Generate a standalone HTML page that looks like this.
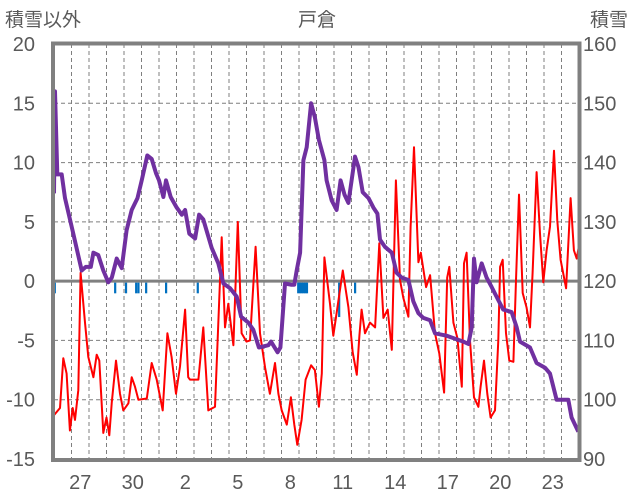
<!DOCTYPE html>
<html><head><meta charset="utf-8">
<style>
html,body{margin:0;padding:0;background:#fff;}
#wrap{position:relative;width:636px;height:501px;overflow:hidden;font-family:"Liberation Sans","Noto Sans CJK JP",sans-serif;}
svg text{font-family:"Liberation Sans","Noto Sans CJK JP",sans-serif;fill:#595959;}
</style></head>
<body>
<div id="wrap">
<svg id="chart" width="636" height="501"></svg>
</div>
<script>
// ---- data ----
const dayLabels = ["27","30","2","5","8","11","14","17","20","23"];
const dayLabelIdx = [1,4,7,10,13,16,19,22,25,28];
const leftTicks = [20,15,10,5,0,-5,-10,-15];
const rightTicks = [160,150,140,130,120,110,100,90];
const redT = [0,0.34,0.53,0.72,0.91,1.07,1.2,1.39,1.52,1.77,1.96,2.25,2.44,2.59,2.82,3.0,3.16,3.3,3.54,3.77,3.96,4.25,4.44,4.63,4.82,5.3,5.58,5.87,6.21,6.48,6.72,6.97,7.2,7.49,7.67,7.77,8.25,8.53,8.82,9.2,9.58,9.77,9.96,10.25,10.5,10.72,11.0,11.2,11.52,11.77,12.06,12.34,12.63,12.82,13.01,13.3,13.54,13.73,13.9,14.15,14.38,14.69,14.91,15.14,15.3,15.45,15.77,15.96,16.15,16.5,16.82,17.07,17.3,17.45,17.58,17.77,18.06,18.35,18.59,18.82,19.07,19.3,19.54,19.77,19.96,20.25,20.38,20.57,20.82,20.96,21.26,21.49,21.77,22.02,22.29,22.47,22.59,22.82,23.05,23.3,23.43,23.58,23.77,24.0,24.25,24.38,24.57,24.76,24.95,25.2,25.39,25.49,25.64,25.83,26.02,26.25,26.4,26.57,26.78,27.0,27.2,27.35,27.58,27.77,27.96,28.15,28.34,28.57,28.76,28.95,29.26,29.52,29.71,29.87,30.0];
const redV = [-11.3,-10.7,-6.5,-7.8,-12.6,-10.7,-11.7,-9.2,0.7,-3.5,-6.4,-8.1,-6.2,-6.7,-12.8,-11.5,-13,-10.2,-6.7,-9.5,-10.9,-10.3,-8.1,-8.9,-10.0,-9.9,-6.9,-8.3,-10.9,-4.4,-6.4,-9.5,-7.2,-2.4,-8.1,-8.3,-8.3,-3.9,-10.9,-10.6,3.7,-3.9,-1.9,-5.4,5.0,-4.4,-5.1,-5.0,2.9,-4.4,-7.3,-9.5,-6.9,-9.5,-10.9,-12.1,-9.8,-12.1,-13.8,-11.7,-8.3,-7.1,-7.5,-10.6,-7.8,2.0,-1.9,-4.6,-2.7,0.9,-2.2,-6.0,-7.9,-4.6,-2.4,-4.4,-3.5,-3.9,3.2,-3.1,-2.4,-5.8,8.5,0.1,-1.4,-3.0,4.6,11.3,1.6,2.4,-0.5,0.5,-4.4,-6.1,-9.4,0.3,1.2,-3.5,-4.8,-8.9,1.5,2.4,-5.0,-9.8,-10.6,-8.9,-6.7,-9.5,-11.5,-10.9,-5.0,1.2,1.8,-4.4,-6.7,-6.8,0.1,7.3,-1.0,-2.2,-3.9,0.7,9.2,4.0,-0.1,2.6,4.6,11.0,5.1,1.8,-0.6,7.0,2.6,1.9,3.0];
const snowT = [0,0.06,0.19,0.44,0.63,1.1,1.58,1.82,2.1,2.25,2.53,2.82,3.1,3.3,3.58,3.87,4.15,4.44,4.77,5.01,5.33,5.58,5.83,6.0,6.25,6.4,6.67,7.01,7.3,7.49,7.73,8.06,8.29,8.53,9.01,9.39,9.68,10.06,10.44,10.69,11.1,11.39,11.71,12.25,12.4,12.78,12.94,13.2,13.54,13.73,13.87,14.06,14.25,14.44,14.69,14.91,15.14,15.45,15.58,15.87,16.15,16.38,16.6,16.82,17.2,17.4,17.64,17.97,18.25,18.48,18.63,18.91,19.3,19.58,19.87,20.25,20.53,20.82,21.1,21.49,21.77,22.43,22.82,23.39,23.68,23.87,24.0,24.15,24.44,24.72,25.01,25.39,25.67,26.15,26.44,26.63,27.2,27.58,28.06,28.34,28.72,29.39,29.58,29.96];
const snowV = [134.8,152,138,138,134,128,121.8,122.4,122.4,124.8,124.4,121.8,119.8,120.6,123.8,122.2,128.6,132,134,137,141.2,140.6,138.2,137,134.2,137,134.2,132.4,131.2,132,128,127.2,131.2,130.4,125.6,123,119.6,118.8,117.4,114,113,111.8,108.8,109.2,109.8,108,108.8,119.6,119.4,119.4,121.8,124.8,140.4,142.6,150,147.6,143.8,140.4,137,133.6,132,137,134.6,133.2,141,139.2,135,134,132.4,131.4,127,125.8,124.8,121.4,120.6,120.2,116.6,114.6,113.8,113.4,111.2,110.8,110.4,109.8,109.4,112.2,123.8,119.8,123,120.6,119,116.8,115.2,114.8,112.2,109.8,108.8,106.2,105.4,104.4,100,100,97,94.6];
const precT = [0.04,3.49,4.11,4.69,4.82,5.26,6.4,8.21,13.95,14.05,14.15,14.25,14.35,14.45,16.29,17.2];
const precV = [0.9,0.9,0.9,0.9,0.9,0.9,0.9,0.9,0.9,0.9,0.9,0.9,0.9,0.9,2.9,0.9];

// ---- axes ----
const X0=54, DAY=17.5, Y20=44, PX=415/35;
function xs(t){return X0+t*DAY;}
function yl(v){return Y20+(20-v)*PX;}
function yr(s){return yl((s-120)/2);}
const NS="http://www.w3.org/2000/svg";
const svg=document.getElementById('chart');
function mk(tag,attrs,parent){const e=document.createElementNS(NS,tag);for(const k in attrs)e.setAttribute(k,attrs[k]);(parent||svg).appendChild(e);return e;}

// grid
const grid=mk('g',{});


for(let d=1;d<30;d++){
  const l=mk('line',{x1:xs(d),x2:xs(d),y1:44,y2:460,stroke:'#7f7f7f','stroke-width':1,'stroke-dasharray':'4,3'},grid);
  
  
}
leftTicks.forEach(v=>{
  if(v===20||v===-15||v===0)return;
  const l=mk('line',{x1:54,x2:580,y1:yl(v),y2:yl(v),stroke:'#7f7f7f','stroke-width':1,'stroke-dasharray':'4,3'},grid);
  
  
});
const zl=mk('line',{x1:54,x2:580,y1:yl(0),y2:yl(0),stroke:'#808080','stroke-width':3});



// precipitation bars
precT.forEach((t,i)=>{
  const r=mk('rect',{x:xs(t)-1,y:yl(0)+1.5,width:2.2,height:precV[i]*PX,fill:'#0070C0'});
  
  
});

// red series
let d='';
redT.forEach((t,i)=>{d+=(i?'L':'M')+xs(t).toFixed(1)+','+yl(redV[i]).toFixed(1);});
const red=mk('path',{d:d,fill:'none',stroke:'#FF0000','stroke-width':2,'stroke-linejoin':'round'});



// snow series
d='';
snowT.forEach((t,i)=>{d+=(i?'L':'M')+xs(t).toFixed(1)+','+yr(snowV[i]).toFixed(1);});
const pur=mk('path',{d:d,fill:'none',stroke:'#7030A0','stroke-width':4,'stroke-linejoin':'round'});



// frame
const fr=mk('rect',{x:53,y:43.5,width:526.5,height:416.5,fill:'none',stroke:'#808080','stroke-width':4});



// tick labels
leftTicks.forEach(v=>{
  const t=mk('text',{x:35,y:yl(v)+7,'text-anchor':'end','font-size':20});
  t.textContent=v;
  
  
});
rightTicks.forEach(s=>{
  const t=mk('text',{x:583,y:yr(s)+7,'font-size':20});
  t.textContent=s;
  
  
});
dayLabels.forEach((lab,i)=>{
  const t=mk('text',{x:xs(dayLabelIdx[i]+0.5),y:489,'text-anchor':'middle','font-size':20});
  t.textContent=lab;
  
  
});
// titles
let tt=mk('text',{x:5,y:26,'font-size':19});
tt.textContent='積雪以外';


tt=mk('text',{x:317,y:26,'font-size':19,'text-anchor':'middle'});
tt.textContent='戸倉';


tt=mk('text',{x:590,y:26,'font-size':19});
tt.textContent='積雪';


</script>
</body></html>
